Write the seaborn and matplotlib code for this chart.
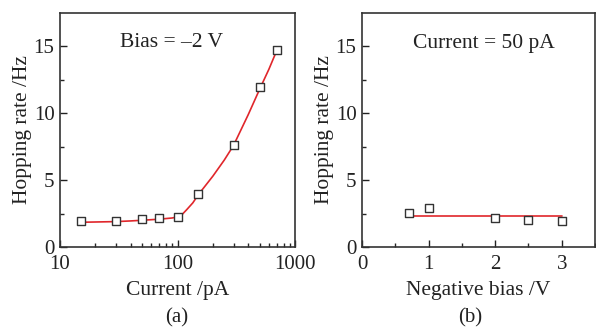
import matplotlib
matplotlib.use("Agg")
import matplotlib.pyplot as plt
import seaborn as sns
import pandas as pd
from matplotlib.ticker import FixedLocator, NullFormatter, MultipleLocator

# Panel (a) data
current_pA = [15, 30, 50, 70, 100, 150, 300, 500, 700]
rate_a = [1.92, 1.95, 2.1, 2.2, 2.27, 4.0, 7.6, 12.0, 14.75]
# fitted curve (a)
fit_a_x = [15, 20, 30, 40, 50, 70, 90, 100, 110, 120, 135, 150, 175, 200, 250, 300, 400, 500, 600, 700]
fit_a_y = [1.85, 1.87, 1.9, 1.95, 2.0, 2.08, 2.17, 2.25, 2.45, 2.8, 3.3, 3.9, 4.65, 5.3, 6.5, 7.6, 9.9, 11.8, 13.3, 14.7]

# Panel (b) data
bias_V = [0.7, 1.0, 2.0, 2.5, 3.0]
rate_b = [2.52, 2.9, 2.15, 2.02, 1.97]
fit_b_x = [0.7, 3.0]
fit_b_y = [2.32, 2.32]

sns.set_theme(style="ticks")
plt.rcParams['font.family'] = ['Liberation Serif', 'DejaVu Serif']

fig = plt.figure(figsize=(5.96, 3.29), dpi=100)
ax1 = fig.add_axes([60/596, 1-247/329, 235/596, 234/329])
ax2 = fig.add_axes([362/596, 1-247/329, 233/596, 234/329])

dfa = pd.DataFrame({"x": current_pA, "y": rate_a})
dfa_fit = pd.DataFrame({"x": fit_a_x, "y": fit_a_y})
dfb = pd.DataFrame({"x": bias_V, "y": rate_b})
dfb_fit = pd.DataFrame({"x": fit_b_x, "y": fit_b_y})

red = "#e0262b"
edge = "#333333"
txt = "#222222"
fs_tick = 15
fs_lab = 15.5

ax1.set_xscale("log")
sns.lineplot(data=dfa_fit, x="x", y="y", ax=ax1, color=red, lw=1.2)
sns.scatterplot(data=dfa, x="x", y="y", ax=ax1, marker="s", s=30,
                facecolor="white", edgecolor=edge, linewidth=1.0, zorder=5)
ax1.set_xlim(10, 1000)
ax1.set_ylim(0, 17.5)

sns.lineplot(data=dfb_fit, x="x", y="y", ax=ax2, color=red, lw=1.2)
sns.scatterplot(data=dfb, x="x", y="y", ax=ax2, marker="s", s=30,
                facecolor="white", edgecolor=edge, linewidth=1.0, zorder=5)
ax2.set_xlim(0, 3.5)
ax2.set_ylim(0, 17.5)
ax2.xaxis.set_major_locator(FixedLocator([0, 1, 2, 3]))
ax2.xaxis.set_minor_locator(MultipleLocator(0.5))

for ax in (ax1, ax2):
    ax.yaxis.set_major_locator(FixedLocator([0, 5, 10, 15]))
    ax.yaxis.set_minor_locator(FixedLocator([2.5, 7.5, 12.5]))
    ax.tick_params(axis="both", which="major", direction="in", length=5, width=1,
                   labelsize=fs_tick, colors=txt)
    ax.tick_params(axis="y", which="major", pad=4)
    ax.tick_params(axis="x", which="major", pad=6)
    ax.tick_params(axis="both", which="minor", direction="in", length=3, width=1)
    for sp in ax.spines.values():
        sp.set_visible(True)
        sp.set_color("#333333")
        sp.set_linewidth(1.2)
    ax.set_ylabel("Hopping rate /Hz", fontsize=fs_lab, labelpad=1, color=txt)

ax1.set_xticks([10, 100, 1000])
ax1.set_xticklabels(["10", "100", "1000"])
ax1.xaxis.set_minor_formatter(NullFormatter())
ax1.set_xlabel("Current /pA", fontsize=fs_lab, labelpad=5, color=txt)
ax2.set_xlabel("Negative bias /V", fontsize=fs_lab, labelpad=5, color=txt)

ax1.text(0.255, 0.872, "Bias = \u20132 V", transform=ax1.transAxes, fontsize=fs_lab,
         ha="left", va="center", color=txt)
ax2.text(0.218, 0.87, "Current = 50 pA", transform=ax2.transAxes, fontsize=fs_lab,
         ha="left", va="center", color=txt)

fig.text(177/596, 1-318/329, "(a)", fontsize=fs_tick, ha="center", va="center", color=txt)
fig.text(470/596, 1-318/329, "(b)", fontsize=fs_tick, ha="center", va="center", color=txt)

fig.savefig("out.png", dpi=100)
